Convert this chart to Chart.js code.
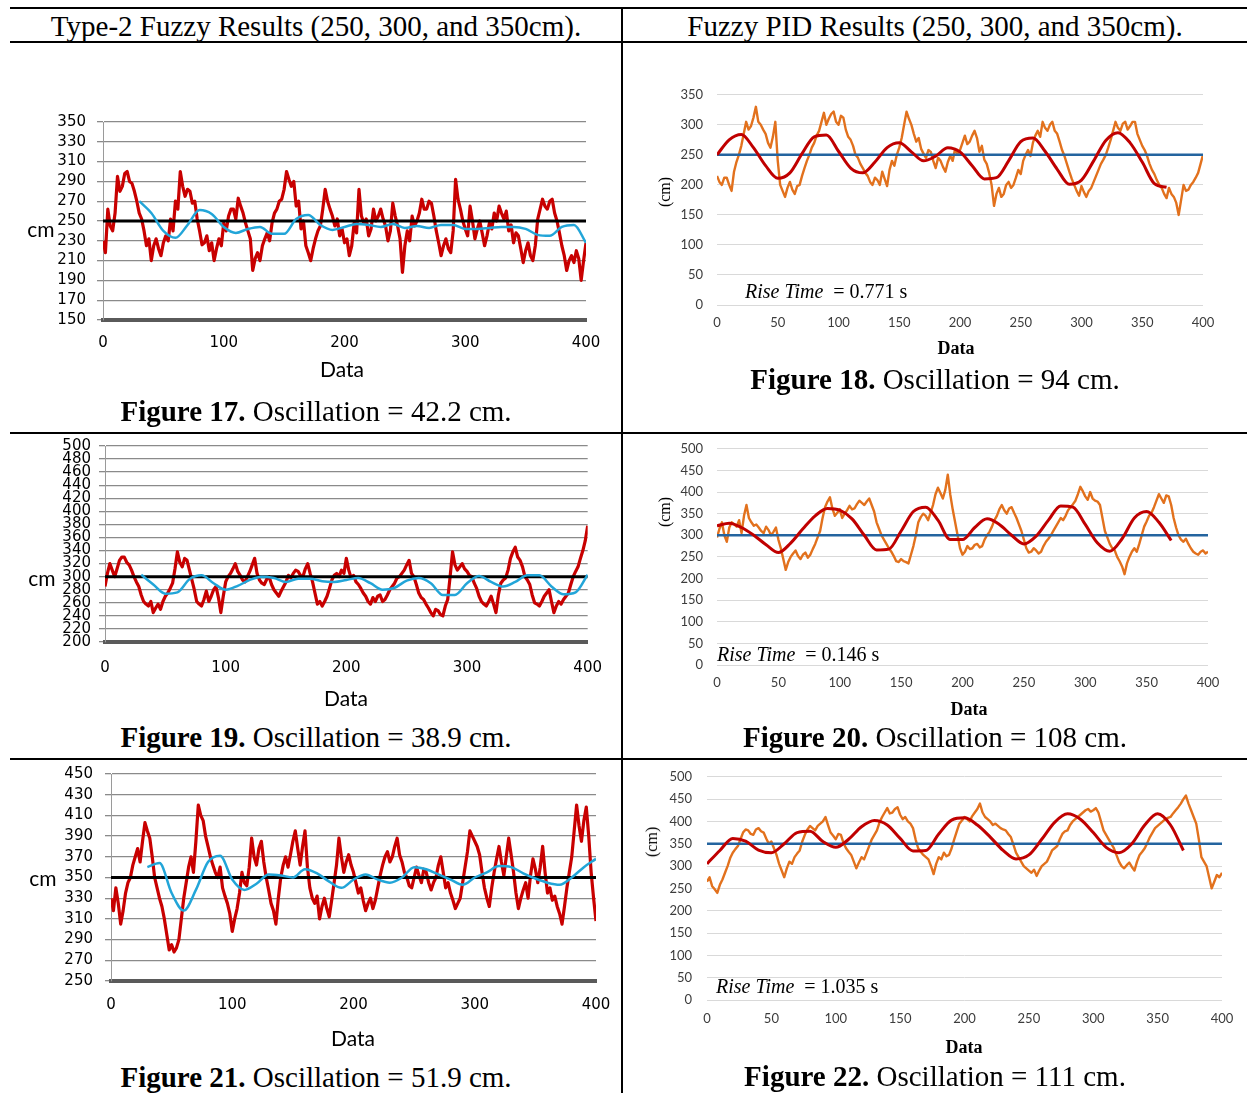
<!DOCTYPE html>
<html>
<head>
<meta charset="utf-8">
<script src="https://cdn.jsdelivr.net/npm/chart.js@4.4.1/dist/chart.umd.min.js"></script>
<style>
html, body { margin: 0; padding: 0; background: #fff; overflow: hidden; }
#page { position: relative; width: 1247px; height: 1093px; }
.hl { position: absolute; height: 2px; background: #000; left: 10px; right: 0; }
.vl { position: absolute; width: 2px; background: #000; }
.txt { position: absolute; white-space: nowrap; transform: translate(-50%, -50%); line-height: 1; }
.serif { font-family: "Liberation Serif", "Times New Roman", serif; color: #000; }
.cap { font-size: 29px; }
.sans { font-family: Lato, "Open Sans", sans-serif; font-size: 21px; color: #000; }
.pidData { font-size: 18px; font-weight: bold; }
.ycm { font-size: 16px; transform: translate(-50%, -50%) rotate(-90deg); }
.rise { position: absolute; white-space: nowrap; transform: translateY(-50%); line-height: 1; font-size: 20px; }
canvas { position: absolute; }
</style>
</head>
<body>
<div id="page">
  <div class="hl" style="top:7px"></div>
  <div class="hl" style="top:41px"></div>
  <div class="hl" style="top:432px"></div>
  <div class="hl" style="top:758px"></div>
  <div class="vl" style="left:621px; top:7px; height:1086px"></div>

  <div class="txt serif cap" style="left:316px; top:26px">Type-2 Fuzzy Results (250, 300, and 350cm).</div>
  <div class="txt serif cap" style="left:935px; top:26px">Fuzzy PID Results (250, 300, and 350cm).</div>

  <canvas id="fig17"></canvas>
  <canvas id="fig18"></canvas>
  <canvas id="fig19"></canvas>
  <canvas id="fig20"></canvas>
  <canvas id="fig21"></canvas>
  <canvas id="fig22"></canvas>

  <div class="txt sans" style="left:41px; top:228px">cm</div>
  <div class="txt sans" style="left:342px; top:368px">Data</div>
  <div class="txt sans" style="left:42px; top:577px">cm</div>
  <div class="txt sans" style="left:346px; top:697px">Data</div>
  <div class="txt sans" style="left:43px; top:877px">cm</div>
  <div class="txt sans" style="left:353px; top:1037px">Data</div>

  <div class="txt serif ycm" style="left:665px; top:192px">(cm)</div>
  <div class="txt serif pidData" style="left:956px; top:348px">Data</div>
  <div class="txt serif ycm" style="left:665px; top:512px">(cm)</div>
  <div class="txt serif pidData" style="left:969px; top:709px">Data</div>
  <div class="txt serif ycm" style="left:652px; top:842px">(cm)</div>
  <div class="txt serif pidData" style="left:964px; top:1047px">Data</div>

  <div class="rise serif" style="left:745px; top:291px"><i>Rise Time</i>&nbsp; = 0.771 s</div>
  <div class="rise serif" style="left:717px; top:654px"><i>Rise Time</i>&nbsp; = 0.146 s</div>
  <div class="rise serif" style="left:716px; top:986px"><i>Rise Time</i>&nbsp; = 1.035 s</div>

  <div class="txt serif cap" style="left:316px; top:411px"><b>Figure 17.</b> Oscillation = 42.2 cm.</div>
  <div class="txt serif cap" style="left:935px; top:379px"><b>Figure 18.</b> Oscillation = 94 cm.</div>
  <div class="txt serif cap" style="left:316px; top:737px"><b>Figure 19.</b> Oscillation = 38.9 cm.</div>
  <div class="txt serif cap" style="left:935px; top:737px"><b>Figure 20.</b> Oscillation = 108 cm.</div>
  <div class="txt serif cap" style="left:316px; top:1077px"><b>Figure 21.</b> Oscillation = 51.9 cm.</div>
  <div class="txt serif cap" style="left:935px; top:1076px"><b>Figure 22.</b> Oscillation = 111 cm.</div>
</div>

<script>
// sensor readings, one every 2 samples (x = 0, 2, ... 400)
const noisyStep = 2;
// smoothed / model curves, one every 10 samples
const smoothStep = 10;

// Type-2 fuzzy, 250 cm
const fig17Setpoint = 250;
const fig17Red = [230,218,262,245,240,258,295,280,285,298,300,290,288,280,270,258,252,240,225,232,
  210,225,232,222,215,228,235,230,252,240,270,262,300,285,275,282,280,268,270,252,
  240,226,228,235,220,228,210,222,232,225,248,240,255,262,262,252,273,265,258,248,
  240,232,200,212,218,210,225,232,238,230,248,258,262,270,272,282,300,292,285,290,
  265,270,242,250,225,218,210,222,232,240,245,262,282,270,262,255,245,252,235,242,
  228,232,215,225,248,238,282,255,248,252,235,242,262,250,255,262,252,245,230,240,
  268,255,245,232,198,225,240,230,255,245,250,258,272,262,262,270,268,255,240,228,
  215,225,232,222,218,240,292,272,262,250,242,235,265,250,232,242,250,238,225,235,
  248,242,258,250,265,258,252,260,240,246,228,238,235,222,208,220,228,215,210,225,
  252,262,272,265,262,270,272,258,250,238,225,215,200,210,215,208,220,212,190,210,
  228];
const fig17BlueStart = 30;
const fig17Blue = [270,258,240,233,246,261,257,244,238,242,244,237,237,252,256,246,241,244,247,246,
  244,247,243,245,243,246,246,242,242,243,244,244,242,236,235,244,246,228];

// Fuzzy PID, 250 cm
const fig18Setpoint = 250;
const fig18Orange = [215,205,200,212,212,200,190,222,238,250,265,285,305,292,298,312,330,305,300,292,
  285,270,262,280,305,240,200,190,180,195,205,192,185,198,200,215,228,240,250,262,
  270,282,290,305,320,300,310,318,322,305,300,315,312,292,280,275,265,250,245,235,
  228,220,215,205,200,212,208,200,222,210,198,225,240,232,250,262,278,300,322,310,
  300,285,272,278,260,252,245,258,255,240,228,245,240,230,222,238,248,240,260,250,
  258,270,282,268,272,282,290,278,255,265,242,235,220,200,165,185,195,180,185,200,
  205,195,200,212,225,218,240,250,258,248,270,282,290,280,305,295,290,300,305,290,
  285,272,258,248,235,222,210,200,190,182,198,188,180,190,195,205,215,225,235,242,
  250,262,275,290,305,295,290,302,305,292,298,305,305,285,275,265,258,248,235,225,
  218,208,200,195,185,178,195,185,180,170,150,175,200,190,192,200,205,212,220,235,
  250];
const fig18Red = [250,275,284,262,232,211,220,252,280,283,256,228,220,238,262,270,255,240,248,262,
  255,232,210,212,240,272,278,256,226,201,208,240,274,287,270,238,202,196];

// Type-2 fuzzy, 300 cm
const fig19Setpoint = 300;
const fig19Red = [285,305,320,310,300,312,325,330,330,322,318,310,300,292,285,272,262,258,255,262,
  245,252,258,250,262,270,275,282,290,312,338,322,315,328,325,310,295,280,262,258,
  255,265,278,262,270,280,285,268,245,270,292,300,305,312,320,308,302,295,292,300,
  308,318,328,305,295,290,288,296,300,288,280,275,270,278,285,292,302,298,305,310,
  308,302,300,312,320,305,292,275,258,262,255,262,270,282,295,302,305,300,310,305,
  328,310,298,302,292,288,282,275,270,262,258,268,262,270,272,262,265,272,280,285,
  290,298,300,305,310,318,325,305,300,288,275,268,265,258,252,245,240,250,248,242,
  240,255,265,300,338,318,310,315,320,312,308,302,300,290,282,270,262,258,255,262,
  270,258,245,272,290,295,298,310,328,338,345,330,325,315,300,295,288,272,260,258,
  255,262,270,275,280,262,245,255,262,258,265,270,275,288,300,308,315,328,340,355,
  378];
const fig19BlueStart = 30;
const fig19Blue = [303,288,274,276,296,302,290,280,286,295,300,298,292,297,297,293,292,295,298,290,
  280,283,294,298,290,272,272,290,301,292,285,292,302,302,285,273,276,303];

// Fuzzy PID, 300 cm
const fig20Setpoint = 300;
const fig20Orange = [295,315,330,300,285,318,330,325,320,335,305,345,370,340,330,322,325,318,310,305,
  320,312,300,308,318,290,270,245,220,238,250,258,265,252,245,255,260,248,255,268,
  280,295,310,340,365,378,388,362,345,352,360,340,350,358,368,360,362,372,380,375,
  370,378,385,370,355,330,315,300,290,280,270,262,252,240,238,245,240,238,235,255,
  275,300,330,342,350,345,335,352,370,395,410,398,385,405,440,395,360,330,300,270,
  255,262,275,268,270,278,280,272,275,290,300,308,320,335,345,360,370,358,350,362,
  365,352,340,325,310,290,270,260,262,270,265,258,262,275,285,292,300,310,320,330,
  340,335,345,358,365,372,380,395,412,402,390,382,400,385,380,378,370,340,310,295,
  280,270,265,250,240,228,210,235,250,262,270,262,280,300,320,332,345,352,365,380,
  395,385,375,392,390,370,340,318,300,290,285,292,280,270,262,258,255,262,265,258,
  262];
const fig20Red = [322,328,318,300,278,260,282,315,345,362,358,338,300,266,268,310,355,365,335,290,
  290,318,338,325,300,280,298,335,368,365,325,282,263,292,340,355,330,288];

// Type-2 fuzzy, 350 cm
const fig21Setpoint = 350;
const fig21Red = [330,318,340,325,305,318,335,345,350,362,370,378,365,385,403,395,388,370,350,340,
  330,322,310,295,280,285,278,282,290,310,330,345,360,370,355,385,420,410,405,390,
  380,370,362,355,350,360,340,332,325,315,298,310,320,335,355,345,342,360,388,370,
  362,378,385,365,350,338,325,318,305,330,350,362,370,360,372,385,395,378,362,380,
  395,360,340,330,325,332,310,322,330,320,312,328,345,362,388,370,355,365,372,362,
  355,345,335,340,328,318,325,330,320,328,340,352,362,370,375,365,370,380,388,372,
  365,355,350,342,340,350,360,352,345,358,355,345,338,345,350,362,370,355,340,345,
  335,328,320,325,330,345,360,375,395,390,385,380,372,355,340,330,322,340,355,368,
  380,365,352,370,388,372,355,335,320,330,338,345,330,352,368,358,345,360,380,355,
  335,340,328,332,322,315,305,322,340,355,370,395,420,400,385,405,418,390,355,330,
  308];
const fig21BlueStart = 30;
const fig21Blue = [360,364,335,318,338,365,371,348,338,344,353,352,350,358,354,346,340,348,353,348,
  345,350,360,358,353,348,343,350,355,361,360,354,349,345,343,350,360,368];

// Fuzzy PID, 350 cm
const fig22Setpoint = 350;
const fig22Orange = [265,275,255,248,240,258,270,285,300,318,330,338,345,360,375,382,380,372,370,382,
  385,378,375,362,350,355,340,325,305,290,275,295,310,305,320,328,335,355,370,382,
  390,385,380,390,395,400,410,392,375,368,360,372,370,352,340,332,325,310,295,308,
  320,315,330,345,360,370,380,398,410,420,430,418,420,428,432,415,405,410,400,395,
  385,360,340,332,325,320,315,300,282,305,320,315,330,322,325,340,360,378,395,402,
  410,405,400,412,420,428,440,420,410,405,400,392,395,390,385,382,380,372,365,348,
  330,320,310,300,295,290,285,292,278,290,300,305,310,322,335,340,345,360,372,378,
  380,392,400,405,410,415,420,425,428,422,425,430,420,400,380,370,360,350,340,325,
  310,300,295,302,308,298,290,310,325,332,340,352,365,375,385,390,395,400,405,408,
  410,418,425,432,440,450,458,440,425,410,395,360,320,310,300,275,250,265,280,275,
  285];
const fig22Red = [305,335,362,356,336,330,350,375,378,355,342,360,388,402,392,362,334,335,372,403,
  408,392,365,335,316,325,360,398,417,405,375,342,330,350,392,417,392,335];

const RED = '#c80000';
const LIGHTBLUE = '#22a5d8';
const ORANGE = '#e2711d';
const DARKRED = '#c00000';
const SETBLUE = '#24649f';

// canvas margins around each plot area
const ML = 70, MT = 20, MR = 30, MB = 45;

function pts(values, start, step) {
    return values.map((v, i) => ({x: start + i * step, y: v}));
}

function flat(v) {
    return [{x: 0, y: v}, {x: 400, y: v}];
}

function buildChart(id, box, yMin, yMax, yStep, xStepSize, type2, datasets) {
    const cv = document.getElementById(id);
    const w = box.right - box.left + ML + MR;
    const h = box.bottom - box.top + MT + MB;
    cv.width = w;
    cv.height = h;
    cv.style.width = w + 'px';
    cv.style.height = h + 'px';
    cv.style.left = (box.left - ML) + 'px';
    cv.style.top = (box.top - MT) + 'px';

    const tickFont = type2 ? {family: 'DejaVu Sans', size: 15} : {family: 'Lato', size: 13};
    const tickColor = type2 ? '#000' : '#3c3c3c';

    return new Chart(cv.getContext('2d'), {
        type: 'line',
        data: {datasets: datasets},
        options: {
            responsive: false,
            animation: false,
            events: [],
            layout: {padding: {top: MT, right: MR, left: 0, bottom: 0}},
            plugins: {legend: {display: false}, tooltip: {enabled: false}},
            elements: {point: {radius: 0}, line: {borderCapStyle: 'butt', borderJoinStyle: 'round'}},
            scales: {
                x: {
                    type: 'linear',
                    min: 0,
                    max: 400,
                    ticks: {stepSize: xStepSize, padding: box.xPad, color: tickColor, font: tickFont, maxRotation: 0, autoSkip: false},
                    grid: {display: false, drawTicks: false},
                    border: type2 ? {display: true, color: '#5a5a5a', width: 4} : {display: false},
                    afterFit: s => { s.height = MB; }
                },
                y: {
                    min: yMin,
                    max: yMax,
                    ticks: {stepSize: yStep, padding: box.yPad, color: tickColor, font: tickFont, autoSkip: false},
                    grid: {
                        color: type2 ? '#8a8a8a' : '#d9d9d9',
                        lineWidth: type2 ? 1.3 : 1,
                        drawTicks: type2,
                        tickLength: 6
                    },
                    border: type2 ? {display: true, color: '#9a9a9a', width: 1} : {display: false},
                    afterFit: s => { s.width = ML; }
                }
            }
        }
    });
}

function type2Sets(red, blue, blueStart, setpoint) {
    return [
        {data: pts(blue, blueStart, smoothStep), borderColor: LIGHTBLUE, borderWidth: 2.5, cubicInterpolationMode: 'monotone'},
        {data: flat(setpoint), borderColor: '#000', borderWidth: 3},
        {data: pts(red, 0, noisyStep), borderColor: RED, borderWidth: 3.2}
    ];
}

function pidSets(orange, red, setpoint) {
    return [
        {data: pts(red, 0, smoothStep), borderColor: DARKRED, borderWidth: 3, cubicInterpolationMode: 'monotone'},
        {data: flat(setpoint), borderColor: SETBLUE, borderWidth: 2.5},
        {data: pts(orange, 0, noisyStep), borderColor: ORANGE, borderWidth: 2.4}
    ];
}

document.addEventListener('DOMContentLoaded', function() {
    buildChart('fig17', {left: 103, top: 122, right: 586, bottom: 320, xPad: 14, yPad: 11}, 150, 350, 20, 100, true,
        type2Sets(fig17Red, fig17Blue, fig17BlueStart, fig17Setpoint));
    buildChart('fig19', {left: 105, top: 446, right: 589, bottom: 642, xPad: 17, yPad: 8}, 200, 500, 20, 100, true,
        type2Sets(fig19Red, fig19Blue, fig19BlueStart, fig19Setpoint));
    buildChart('fig21', {left: 111, top: 773, right: 596, bottom: 981, xPad: 15, yPad: 12}, 250, 450, 20, 100, true,
        type2Sets(fig21Red, fig21Blue, fig21BlueStart, fig21Setpoint));

    buildChart('fig18', {left: 717, top: 93, right: 1203, bottom: 305, xPad: 10, yPad: 14}, 0, 350, 50, 50, false,
        pidSets(fig18Orange, fig18Red, fig18Setpoint));
    buildChart('fig20', {left: 717, top: 447, right: 1208, bottom: 665, xPad: 10, yPad: 14}, 0, 500, 50, 50, false,
        pidSets(fig20Orange, fig20Red, fig20Setpoint));
    buildChart('fig22', {left: 707, top: 774, right: 1222, bottom: 1000, xPad: 11, yPad: 15}, 0, 500, 50, 50, false,
        pidSets(fig22Orange, fig22Red, fig22Setpoint));
});
</script>
</body>
</html>
